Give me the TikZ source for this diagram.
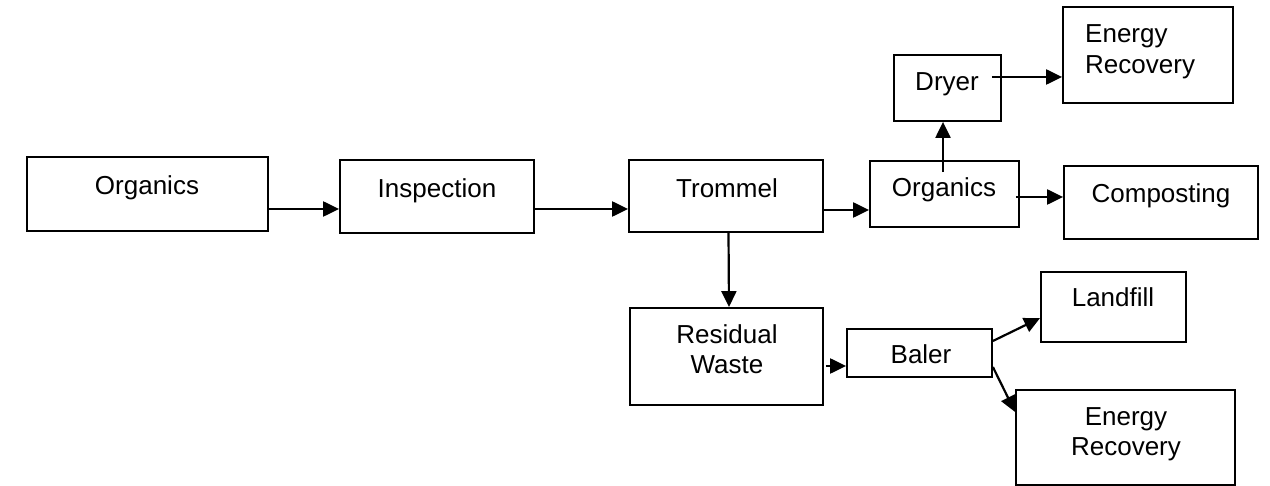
\documentclass[tikz,border=0pt]{standalone}
\usepackage{fontspec}
\setmainfont{Liberation Sans}
\usetikzlibrary{arrows.meta}

\begin{document}
\begin{tikzpicture}[x=1pt,y=1pt,yscale=-1,xscale=1,
  box/.style={draw, line width=1.8pt, inner sep=0pt},
  lbl/.style={inner sep=0pt, anchor=base, font=\fontsize{26}{31}\selectfont},
  arr/.style={line width=2.2pt, -{Triangle[length=16pt,width=15pt]}}]
\useasboundingbox (0,0) rectangle (1270,486);

%Shapes: Rectangles
\node[box, minimum width=241pt, minimum height=74pt] (orgl) at (147.5,194) {};
\node[box, minimum width=194pt, minimum height=73pt] (insp) at (437,196.5) {};
\node[box, minimum width=194pt, minimum height=72pt] (trom) at (726,196) {};
\node[box, minimum width=149pt, minimum height=66pt] (orgr) at (944.5,194) {};
\node[box, minimum width=194pt, minimum height=73pt] (comp) at (1161,202.5) {};
\node[box, minimum width=107pt, minimum height=66pt] (dryer) at (947.5,88) {};
\node[box, minimum width=170pt, minimum height=96pt] (enrup) at (1148,55) {};
\node[box, minimum width=193pt, minimum height=97pt] (resid) at (726.5,356.5) {};
\node[box, minimum width=145pt, minimum height=48pt] (baler) at (919.5,353) {};
\node[box, minimum width=145pt, minimum height=70pt] (landf) at (1113.5,307) {};
\node[box, minimum width=219pt, minimum height=95pt] (enrlo) at (1125.5,437.5) {};

%Text (base of two-line labels is the last line)
\node[lbl] (orgltxt) at (147,194.5) {Organics};
\node[lbl] (insptxt) at (437,197.5) {Inspection};
\node[lbl] (tromtxt) at (727,197.5) {Trommel};
\node[lbl] (orgrtxt) at (944,197) {Organics};
\node[lbl] (comptxt) at (1161,202.5) {Composting};
\node[lbl] (dryertxt) at (947,91) {Dryer};
\node[lbl, anchor=base west, align=left] (enruptxt) at (1085,74) {Energy\\Recovery};
\node[lbl, align=center] (residtxt) at (727,374) {Residual\\Waste};
\node[lbl] (balertxt) at (921,364) {Baler};
\node[lbl] (landftxt) at (1113,307) {Landfill};
\node[lbl, align=center] (enrlotxt) at (1126,456) {Energy\\Recovery};

%Straight Lines (yscale=-1: positive yshift goes down)
\draw[arr] ([yshift=15pt]orgl.east) -- ([yshift=12.5pt]insp.west);
\draw[arr] ([yshift=12.5pt]insp.east) -- ([yshift=13pt]trom.west);
\draw[arr] ([yshift=14pt]trom.east) -- ([yshift=16pt]orgr.west);
\draw[arr] ([xshift=-4pt,yshift=3pt]orgr.east) -- ([yshift=-5.5pt]comp.west);
\draw[arr] ([xshift=-1.5pt,yshift=12pt]orgr.north) -- ([xshift=-4.5pt]dryer.south);
\draw[arr] ([xshift=-10pt,yshift=-11pt]dryer.east) -- ([yshift=22pt]enrup.west);
\draw[arr] ([xshift=2.5pt]trom.south) -- ([xshift=2.5pt]resid.north);
\draw[arr] ([xshift=2pt,yshift=9.5pt]resid.east) -- ([yshift=13pt]baler.west);
\draw[arr] ([yshift=-12pt]baler.east) -- ([yshift=11pt]landf.west);
\draw[arr] ([yshift=14pt]baler.east) -- ([yshift=-25.5pt]enrlo.west);

\end{tikzpicture}
\end{document}
